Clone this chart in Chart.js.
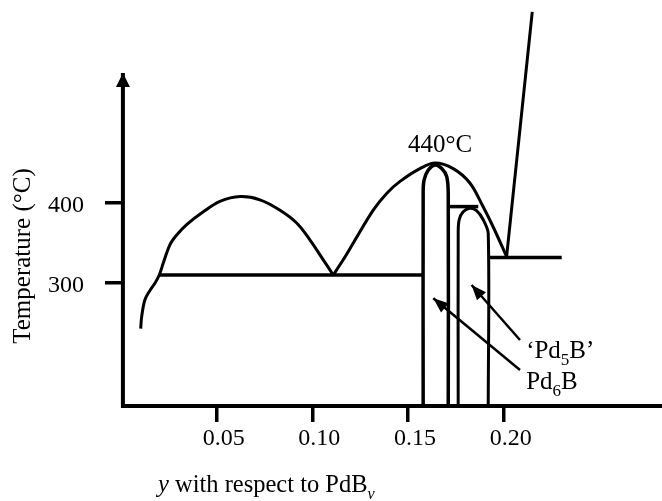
<!DOCTYPE html>
<html><head><meta charset="utf-8">
<script src="https://cdn.jsdelivr.net/npm/chart.js@4/dist/chart.umd.min.js"></script>
<style>html,body{margin:0;padding:0;background:#fff;}canvas{display:block;}</style>
</head><body>
<canvas id="c" width="662" height="501"></canvas>
<script>
// ---- axis ranges / ticks ----
const X_TICKS = [0.05, 0.10, 0.15, 0.20];
const Y_TICKS = [300, 400];
const X_MIN = 0, X_MAX = 0.2827;
const T_MIN = 146.25, T_MAX = 562.5;

// ---- axes drawn as lines (with arrows) ----
const Y_AXIS_X = [0.001, 0.001];
const Y_AXIS_T = [143.75, 562.5];
const X_AXIS_X = [0.0, 0.291];
const X_AXIS_T = [146.25, 146.25];

// ---- phase-boundary curves (y composition, temperature °C) ----
const LIQ_LEFT_X = [0.0103,0.0108,0.0125,0.0152,0.0178,0.0200,0.0221,0.0256,0.0291,0.0343,0.0430,0.0517,0.0622,0.0726,0.0831,0.0918,0.0987,0.1057,0.1109];
const LIQ_LEFT_T = [243,258,279,291,300,310,325,348,360,373,389,402,408,404,391,375,354,329,310];

const LIQ_RIGHT_X = [0.1109,0.1161,0.1214,0.1318,0.1388,0.1458,0.1562,0.1641,0.1736,0.1823,0.1893,0.1945,0.2015];
const LIQ_RIGHT_T = [310,329,350,391,412,427,443,450,443,425,395,370,333];

const EUTECTIC_X = [0.0200, 0.1579];
const EUTECTIC_T = [310, 310];

const PD6B_X = [0.1579,0.1579,0.1584,0.1605,0.1641,0.1676,0.1702,0.1710,0.1710];
const PD6B_T = [146.25,414,429,441,447.5,443,433,412,146.25];

const PD5B_X = [0.1762,0.1762,0.1767,0.1788,0.1823,0.1858,0.1893,0.1919,0.1919];
const PD5B_T = [146.25,364,379,389,393.5,390.5,379,362,146.25];

const PERITECTIC_X = [0.1710, 0.1867];
const PERITECTIC_T = [395.5, 395.5];

const RIGHT_LINE_X = [0.1919, 0.2303];
const RIGHT_LINE_T = [332, 332];

const STEEP_X = [0.2015, 0.2149];
const STEEP_T = [333, 639];

// ---- annotation arrows (tail -> tip) ----
const ARROW_PD6B_X = [0.2085, 0.1632];
const ARROW_PD6B_T = [191.25, 280.9];
const ARROW_PD5B_X = [0.2085, 0.1832];
const ARROW_PD5B_T = [228.75, 297.5];

// ---- texts ----
const Y_TITLE = 'Temperature (°C)';
const X_TITLE_RUNS = [{t:'y', it:true}, {t:' with respect to PdB'}, {t:'v', it:true, sub:true}];
const PEAK_LABEL = '440°C';
const PEAK_LABEL_POS = {x:0.1667, T:463.75};
const PD5B_LABEL_RUNS = [{t:'\u2018Pd'}, {t:'5', sub:true}, {t:'B\u2019'}];
const PD5B_LABEL_POS = {x:0.2117, T:206.25};
const PD6B_LABEL_RUNS = [{t:'Pd'}, {t:'6', sub:true}, {t:'B'}];
const PD6B_LABEL_POS = {x:0.2117, T:167.5};

const FAM = '"Liberation Serif", "Times New Roman", serif';

function pts(xs, ts){ return xs.map((x,i)=>({x:x, y:ts[i]})); }
function line(xs, ts, width, tension, extra){
  return Object.assign({data:pts(xs,ts), showLine:true, borderColor:'#000', backgroundColor:'#000',
    borderWidth:width, pointRadius:0, pointHoverRadius:0, tension:tension, clip:false, fill:false,
    borderCapStyle:'butt', borderJoinStyle:'round'}, extra||{});
}

const datasets = [
  line(Y_AXIS_X, Y_AXIS_T, 4, 0, {arrowHead:{len:14, half:7}}),
  line(X_AXIS_X, X_AXIS_T, 4, 0, {arrowHead:{len:15, half:7}}),
  line(LIQ_LEFT_X, LIQ_LEFT_T, 3, 0.35),
  line(LIQ_RIGHT_X, LIQ_RIGHT_T, 3, 0.35),
  line(EUTECTIC_X, EUTECTIC_T, 3.5, 0),
  line(PD6B_X, PD6B_T, 3.5, 0.3),
  line(PD5B_X, PD5B_T, 3, 0.3),
  line(PERITECTIC_X, PERITECTIC_T, 3.5, 0),
  line(RIGHT_LINE_X, RIGHT_LINE_T, 3.5, 0),
  line(STEEP_X, STEEP_T, 3, 0),
  line(ARROW_PD6B_X, ARROW_PD6B_T, 2.5, 0, {arrowHead:{len:15, half:6}}),
  line(ARROW_PD5B_X, ARROW_PD5B_T, 2.5, 0, {arrowHead:{len:15, half:6}})
];

const arrowPlugin = {
  id:'arrowHeads',
  afterDatasetsDraw(chart){
    const ctx = chart.ctx;
    chart.data.datasets.forEach((ds,i)=>{
      if(!ds.arrowHead) return;
      const p = chart.getDatasetMeta(i).data;
      const a = p[p.length-2], b = p[p.length-1];
      const dx = b.x-a.x, dy = b.y-a.y, L = Math.hypot(dx,dy);
      const ux = dx/L, uy = dy/L;
      const bx = b.x-ux*ds.arrowHead.len, by = b.y-uy*ds.arrowHead.len, h = ds.arrowHead.half;
      ctx.save();
      ctx.fillStyle = '#000';
      ctx.beginPath();
      ctx.moveTo(b.x, b.y);
      ctx.lineTo(bx - uy*h, by + ux*h);
      ctx.lineTo(bx + uy*h, by - ux*h);
      ctx.closePath();
      ctx.fill();
      ctx.restore();
    });
  }
};

function fontFor(r, size){
  const s = r.sub ? Math.round(size*0.66) : size;
  return (r.it ? 'italic ' : '') + s + 'px ' + FAM;
}
function drawRuns(ctx, runs, x, y, size, align){
  const widths = runs.map(r=>{ ctx.font = fontFor(r,size); return ctx.measureText(r.t).width; });
  const total = widths.reduce((a,b)=>a+b,0);
  let cx = align==='center' ? x-total/2 : x;
  ctx.textAlign = 'left';
  ctx.textBaseline = 'alphabetic';
  runs.forEach((r,i)=>{
    ctx.font = fontFor(r,size);
    ctx.fillText(r.t, cx, y + (r.sub ? 7 : 0));
    cx += widths[i];
  });
}

const textPlugin = {
  id:'texts',
  afterDraw(chart){
    const ctx = chart.ctx, xs = chart.scales.x, ys = chart.scales.y;
    ctx.save();
    ctx.fillStyle = '#000';
    // y-axis title (rotated)
    ctx.save();
    ctx.translate(30, 256);
    ctx.rotate(-Math.PI/2);
    ctx.font = '25px ' + FAM;
    ctx.textAlign = 'center';
    ctx.textBaseline = 'alphabetic';
    ctx.fillText(Y_TITLE, 0, 0);
    ctx.restore();
    // x-axis title
    drawRuns(ctx, X_TITLE_RUNS, 158, 492, 24.5, 'left');
    // annotations anchored to data coordinates
    ctx.font = '25px ' + FAM;
    ctx.textAlign = 'center';
    ctx.textBaseline = 'alphabetic';
    ctx.fillText(PEAK_LABEL, xs.getPixelForValue(PEAK_LABEL_POS.x), ys.getPixelForValue(PEAK_LABEL_POS.T));
    drawRuns(ctx, PD5B_LABEL_RUNS, xs.getPixelForValue(PD5B_LABEL_POS.x), ys.getPixelForValue(PD5B_LABEL_POS.T), 25, 'left');
    drawRuns(ctx, PD6B_LABEL_RUNS, xs.getPixelForValue(PD6B_LABEL_POS.x), ys.getPixelForValue(PD6B_LABEL_POS.T), 25, 'left');
    ctx.restore();
  }
};

const tickGrid = {display:true, drawOnChartArea:false, drawTicks:true, tickLength:16, lineWidth:3.5, color:'#000'};

new Chart(document.getElementById('c'), {
  type:'scatter',
  data:{datasets:datasets},
  options:{
    responsive:false, animation:false, devicePixelRatio:1,
    events:[],
    layout:{padding:{top:73, right:0, bottom:0, left:0}},
    plugins:{legend:{display:false}, tooltip:{enabled:false}, title:{display:false}},
    scales:{
      x:{
        type:'linear', min:X_MIN, max:X_MAX,
        afterBuildTicks:s=>{ s.ticks = X_TICKS.map(v=>({value:v})); },
        afterFit:s=>{ s.height = 95; },
        grid:tickGrid, border:{display:false},
        ticks:{color:'#000', font:{family:FAM, size:24}, padding:2, labelOffset:7, maxRotation:0, autoSkip:false,
          callback:v=>Number(v).toFixed(2)}
      },
      y:{
        type:'linear', min:T_MIN, max:T_MAX,
        afterBuildTicks:s=>{ s.ticks = Y_TICKS.map(v=>({value:v})); },
        afterFit:s=>{ s.width = 121; },
        grid:tickGrid, border:{display:false},
        ticks:{color:'#000', font:{family:FAM, size:24}, padding:21, labelOffset:3, autoSkip:false,
          callback:v=>String(v)}
      }
    }
  },
  plugins:[arrowPlugin, textPlugin]
});
</script>
</body></html>
